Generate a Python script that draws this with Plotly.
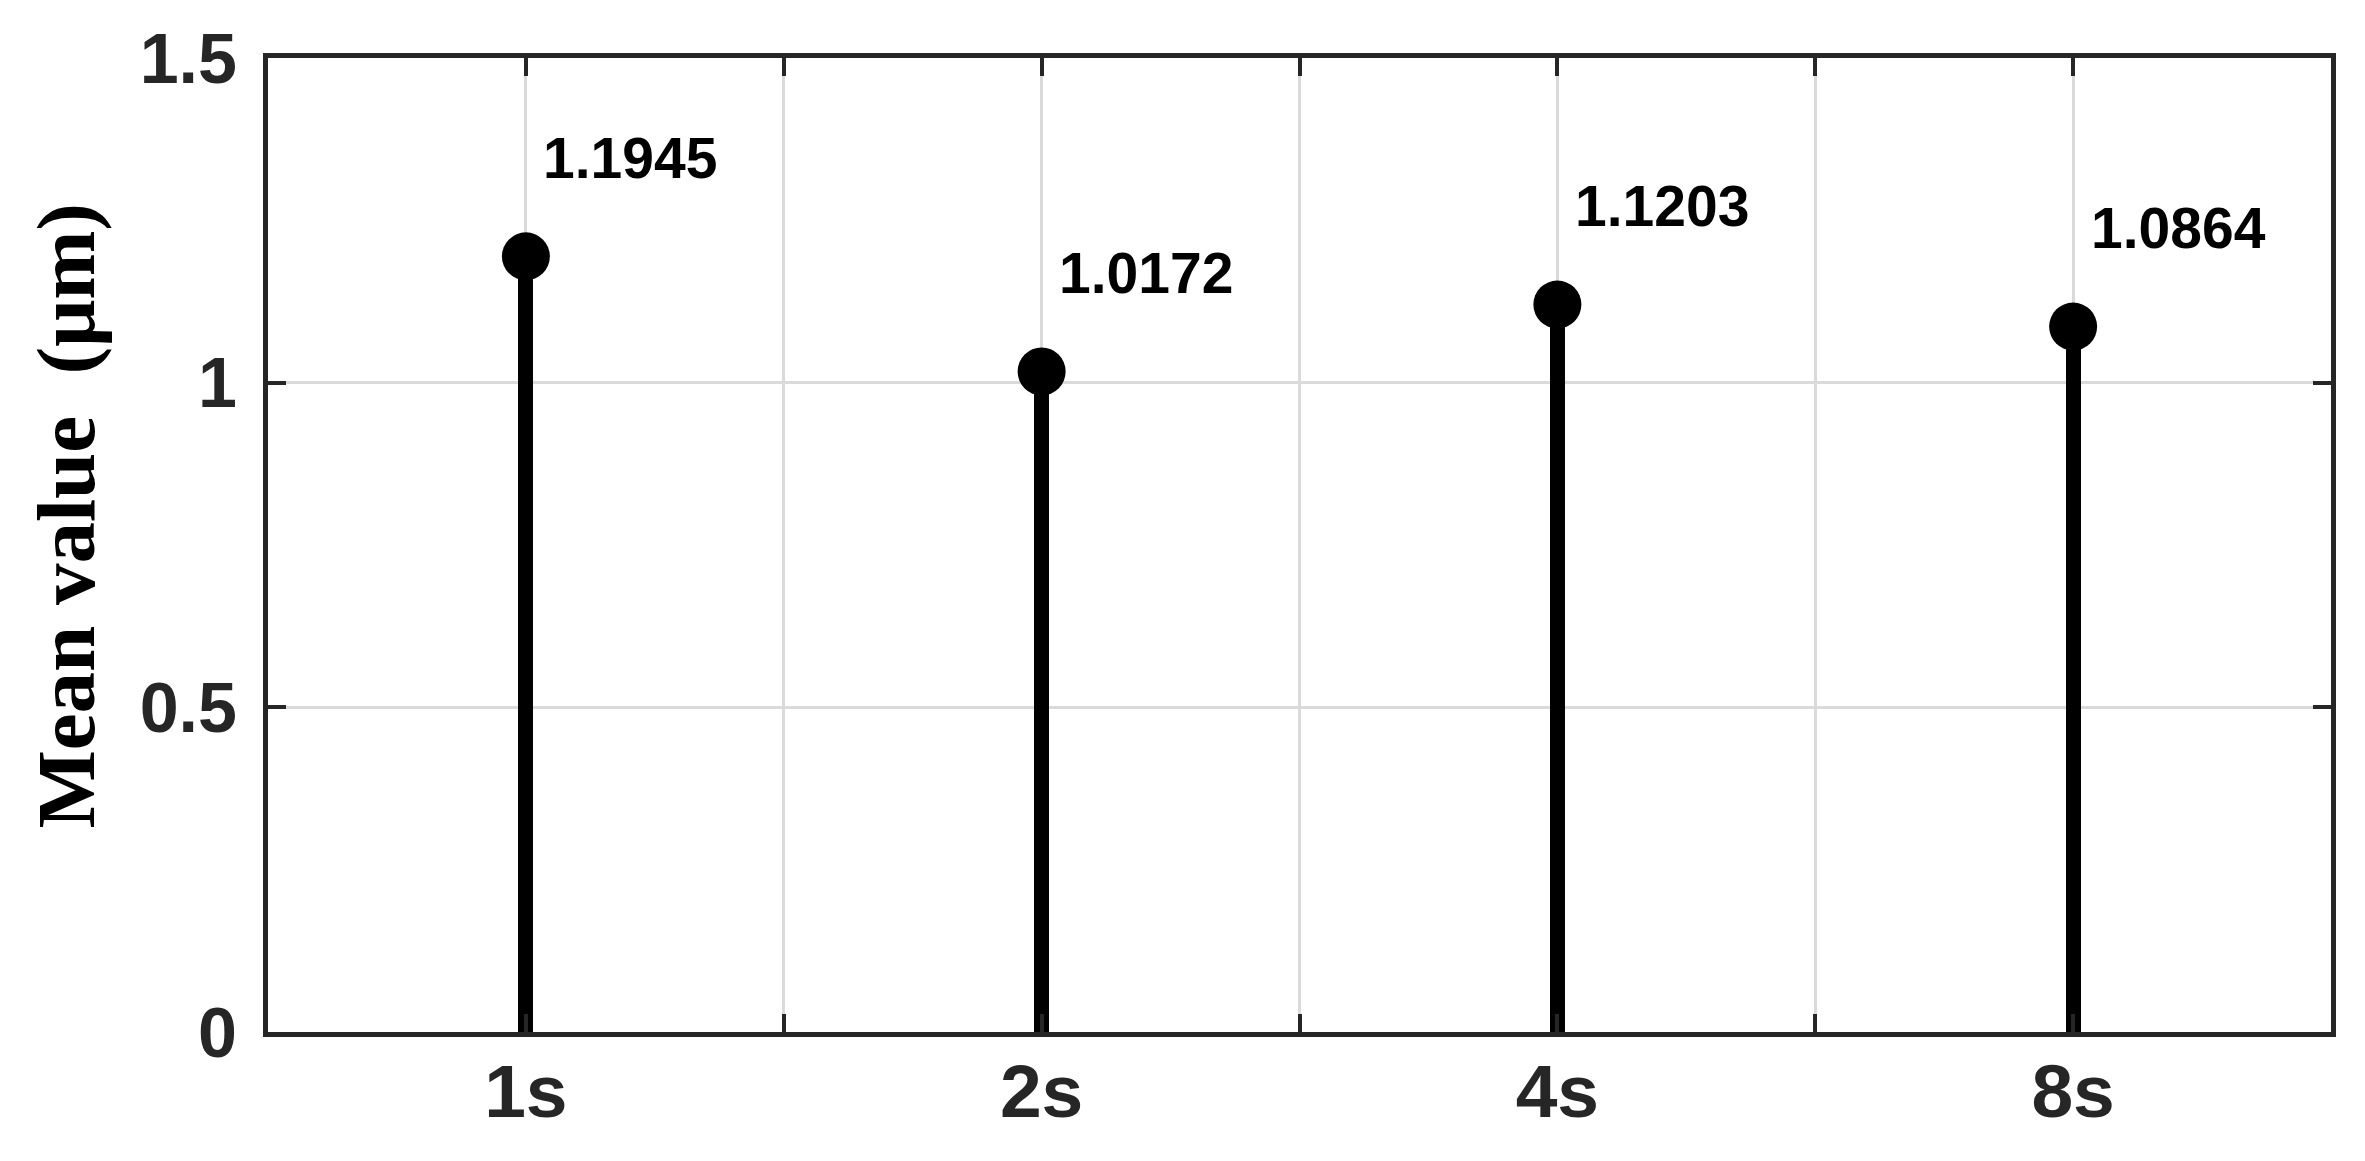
import plotly.graph_objects as go

# データ
categories  = ['1s', '2s', '4s', '8s']
mean_values = [1.1945, 1.0172, 1.1203, 1.0864]
label_texts = ['1.1945', '1.0172', '1.1203', '1.0864']
y_ticks     = [0, 0.5, 1, 1.5]

x_pos = list(range(1, len(categories) + 1))

# 目盛りは 0.5 刻み (ラベルは整数位置のみ)
x_tickvals = [0.5 + 0.5 * i for i in range(2 * len(categories) + 1)]
x_ticktext = ['' if v % 1 else categories[int(v) - 1] for v in x_tickvals]

text_color  = '#000000'
frame_color = '#262626'
grid_color  = '#dadada'
tick_font   = 'Arial, "Liberation Sans", sans-serif'
title_font  = '"Times New Roman", "Liberation Serif", serif'

fig = go.Figure()

# ステム
fig.add_trace(go.Bar(
    x            = x_pos,
    y            = mean_values,
    width        = 0.029,
    marker       = {'color': '#000000', 'line': {'width': 0}},
    showlegend   = False,
    hoverinfo    = 'skip',
))
# 先端のマーカー
fig.add_trace(go.Scatter(
    x          = x_pos,
    y          = mean_values,
    mode       = 'markers',
    marker     = {'color': '#000000', 'size': 48, 'line': {'width': 0}},
    showlegend = False,
))

# 値ラベル
for xv, yv, t in zip(x_pos, mean_values, label_texts):
    fig.add_annotation(
        x         = xv + 0.03,
        y         = yv + 0.152,
        xref      = 'x',
        yref      = 'y',
        text      = t,
        showarrow = False,
        xanchor   = 'left',
        yanchor   = 'middle',
        font      = {'family': tick_font, 'size': 57, 'color': text_color, 'weight': 'bold'},
    )

# 縦軸タイトル
fig.add_annotation(
    x         = -0.098,
    y         = 0.53,
    xref      = 'paper',
    yref      = 'paper',
    text      = 'Mean value  (μm)',
    textangle = -90,
    showarrow = False,
    xanchor   = 'center',
    yanchor   = 'middle',
    font      = {'family': title_font, 'size': 83, 'color': text_color, 'weight': 'bold'},
)

fig.update_layout(
    width         = 2365,
    height        = 1161,
    margin        = {'l': 260, 'r': 42, 't': 50, 'b': 137},
    plot_bgcolor  = 'white',
    paper_bgcolor = 'white',
    showlegend    = False,
    bargap        = 0,
)
fig.update_xaxes(
    range             = [0.5, 4.5],
    tickmode          = 'array',
    tickvals          = x_tickvals,
    ticktext          = x_ticktext,
    ticks             = 'inside',
    ticklen           = 18,
    tickwidth         = 4,
    tickcolor         = frame_color,
    showgrid          = True,
    gridcolor         = grid_color,
    gridwidth         = 3,
    showline          = True,
    linecolor         = frame_color,
    linewidth         = 5,
    mirror            = 'allticks',
    zeroline          = False,
    ticklabelstandoff = -10,
    tickfont          = {'family': tick_font, 'size': 75, 'color': '#262626', 'weight': 'bold'},
)
fig.update_yaxes(
    range             = [0, 1.5],
    tickmode          = 'array',
    tickvals          = y_ticks,
    ticks             = 'inside',
    ticklen           = 18,
    tickwidth         = 4,
    tickcolor         = frame_color,
    showgrid          = True,
    gridcolor         = grid_color,
    gridwidth         = 3,
    showline          = True,
    linecolor         = frame_color,
    linewidth         = 5,
    mirror            = 'allticks',
    zeroline          = False,
    ticklabelstandoff = 12,
    tickfont          = {'family': tick_font, 'size': 70, 'color': '#262626', 'weight': 'bold'},
)

fig.write_html("out.html")
